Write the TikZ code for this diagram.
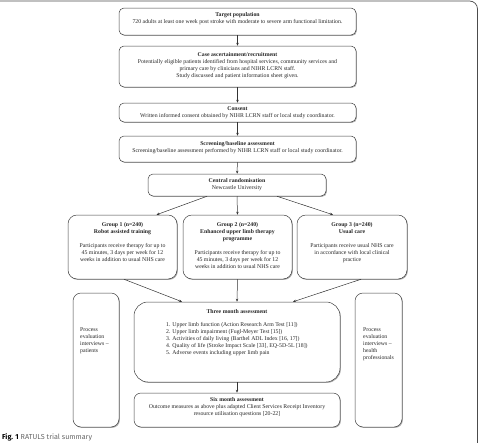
\documentclass[tikz,border=0pt]{standalone}
\usepackage{fontspec}
\setmainfont{Liberation Serif}
\setsansfont{Fira Sans}
\usetikzlibrary{shadows,arrows.meta}
\begin{document}
\begin{tikzpicture}[x=1pt,y=-1pt,
  box/.style={draw=black!75, line width=0.5pt, fill=white, rounded corners=#1,
    drop shadow={shadow xshift=0.9pt, shadow yshift=-0.9pt, fill=black!40, opacity=0.8},
    inner sep=0pt},
  box/.default=5pt,
  txt/.style={font=\fontsize{5.8}{7}\selectfont, align=center, inner sep=0pt, text=black!85},
  ltxt/.style={font=\fontsize{5.8}{7}\selectfont, align=left, inner sep=0pt, text=black!85},
  conn/.style={draw=black!80, line width=0.5pt, -{Stealth[length=3pt,width=2.4pt]}}
]
\useasboundingbox (0,0) rectangle (479,442);
% outer frame
\draw[black!70, line width=0.7pt, rounded corners=8pt] (-10,1) -- (477.5,1) -- (477.5,460);

% boxes
\node[box, minimum width=237pt, minimum height=27pt] (target) at (237.5,21.5) {};
\node[txt, anchor=north] (targett) at (237.5,12.6) {\textbf{Target population}\\720 adults at least one week post stroke with moderate to severe arm functional limitation.};

\node[box, minimum width=237pt, minimum height=41pt] (case) at (237.5,66.5) {};
\node[txt, anchor=north] (caset) at (237.5,51.8) {\textbf{Case ascertainment/recruitment}\\Potentially eligible patients identified from hospital services, community services and\\primary care by clinicians and NIHR LCRN staff.\\Study discussed and patient information sheet given.};

\node[box, minimum width=237pt, minimum height=19pt] (consent) at (237.5,112.5) {};
\node[txt, anchor=north] (consentt) at (237.5,106.3) {\textbf{Consent}\\Written informed consent obtained by NIHR LCRN staff or local study coordinator.};

\node[box, minimum width=237pt, minimum height=26pt] (screen) at (237.5,149) {};
\node[txt, anchor=north] (screent) at (237.5,141.3) {\textbf{Screening/baseline assessment}\\Screening/baseline assessment performed by NIHR LCRN staff or local study coordinator.};

\node[box, minimum width=178pt, minimum height=22pt] (rand) at (237,185) {};
\node[txt, anchor=north] (randt) at (237,178.3) {\textbf{Central randomisation}\\Newcastle University};

\node[box=9pt, minimum width=109pt, minimum height=64pt] (g1) at (122.5,247) {};
\node[txt, anchor=north] (g1t) at (122.5,222.3) {\textbf{Group 1 (n=240)}\\\textbf{Robot assisted training}\\[7pt]Participants receive therapy for up to\\45 minutes, 3 days per week for 12\\weeks in addition to usual NHS care};

\node[box=9pt, minimum width=109pt, minimum height=64pt] (g2) at (237.5,247) {};
\node[txt, anchor=north] (g2t) at (237.5,222.3) {\textbf{Group 2 (n=240)}\\\textbf{Enhanced upper limb therapy}\\\textbf{programme}\\[7pt]Participants receive therapy for up to\\45 minutes, 3 days per week for 12\\weeks in addition to usual NHS care};

\node[box=9pt, minimum width=110pt, minimum height=64pt] (g3) at (352,247) {};
\node[txt, anchor=north] (g3t) at (352,222.3) {\textbf{Group 3 (n=240)}\\\textbf{Usual care}\\[7pt]Participants receive usual NHS care\\in accordance with local clinical\\practice};

\node[box=14pt, minimum width=206pt, minimum height=80pt] (three) at (237,342) {};
\node[txt, anchor=north] (threet) at (237,309.3) {\textbf{Three month assessment}};
\node[ltxt, anchor=north west] (threel) at (166,322.3) {1. Upper limb function (Action Research Arm Test [11])\\2. Upper limb impairment (Fugl-Meyer Test [15])\\3. Activities of daily living (Barthel ADL Index [16, 17])\\4. Quality of life (Stroke Impact Scale [33], EQ-5D-5L [18])\\5. Adverse events including upper limb pain};

\node[box=7pt, minimum width=206pt, minimum height=34pt] (six) at (237,410) {};
\node[txt, anchor=north] (sixt) at (237,397.3) {\textbf{Six month assessment}\\Outcome measures as above plus adapted Client Services Receipt Inventory\\resource utilisation questions [20-22]};

\node[box=8pt, minimum width=46pt, minimum height=134pt] (pl) at (96,360) {};
\node[ltxt, anchor=north west] (plt) at (80,327.3) {Process\\evaluation\\interviews –\\patients};

\node[box=8pt, minimum width=47pt, minimum height=134pt] (pr) at (378.5,360) {};
\node[ltxt, anchor=north west] (prt) at (363,327.3) {Process\\evaluation\\interviews –\\health\\professionals};

% connectors
\draw[conn] (target) -- (case);
\draw[conn] (case) -- (consent);
\draw[conn] (consent) -- (screen);
\draw[conn] (screen) -- (rand);
\draw[conn] ([xshift=-30pt]rand.south) -- ([xshift=34pt]g1.north);
\draw[conn] (rand.south) -- (g2.north);
\draw[conn] ([xshift=40pt]rand.south) -- ([xshift=-19pt]g3.north);
\draw[conn] ([xshift=1.5pt]g1.south) -- ([xshift=-55pt]three.north);
\draw[conn] (g2.south) -- (three.north);
\draw[conn] ([xshift=9pt]g3.south) -- ([xshift=56pt]three.north);
\draw[conn] (three) -- (six);

% caption
\node[anchor=west, inner sep=0pt, font=\fontsize{7.2}{8}\sffamily] (cap) at (2,437) {\textbf{Fig. 1} \textcolor{black!60}{RATULS trial summary}};
\end{tikzpicture}
\end{document}
